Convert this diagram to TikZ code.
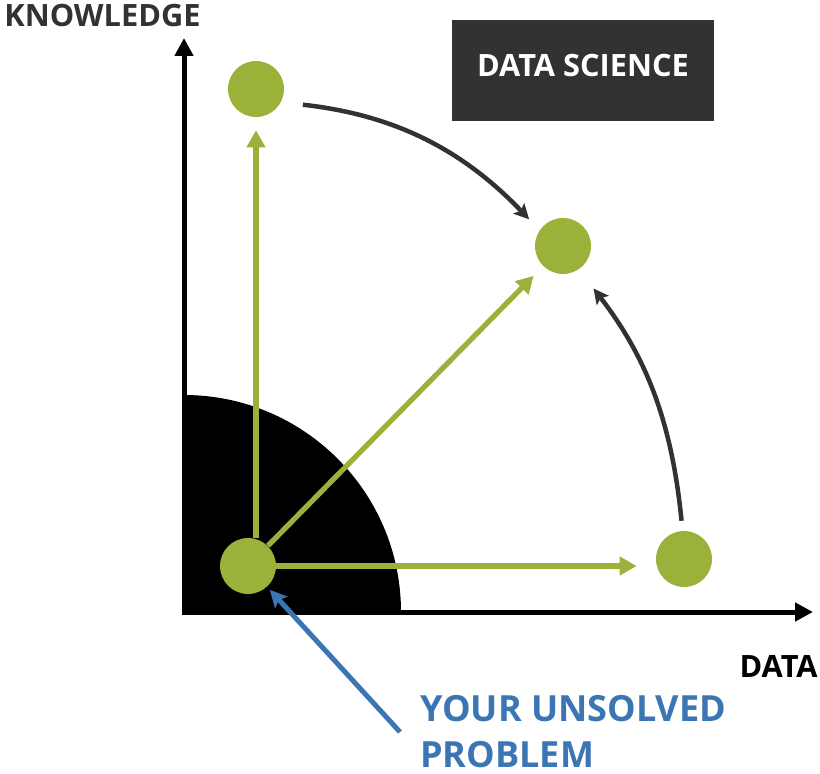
\documentclass[tikz,border=0pt]{standalone}
\usepackage{fontspec}
\setmainfont{Open Sans}
\usetikzlibrary{arrows.meta,positioning,calc}
\usepackage{xcolor}
\definecolor{dsgreen}{RGB}{155,178,58}
\definecolor{dsdark}{RGB}{51,49,50}
\definecolor{dsblue}{RGB}{59,117,180}

\tikzset{
    dot/.style={circle, fill=dsgreen, minimum size=1.12cm, inner sep=0pt},
    axis/.style={line width=0.1cm, {Triangle[length=0.36cm, width=0.36cm]}-{Triangle[length=0.36cm, width=0.36cm]}},
    greenarrow/.style={dsgreen, line width=0.105cm, -{Triangle[length=0.34cm, width=0.36cm]}},
    darkarrow/.style={dsdark, line width=0.09cm, -{Stealth[length=0.3cm, width=0.3cm, inset=0.06cm]}},
    bluearrow/.style={dsblue, line width=0.1cm, -{Stealth[length=0.34cm, width=0.34cm, inset=0.07cm]}},
    label/.style={font=\bfseries\fontsize{17.5}{21}\selectfont, inner sep=0pt}
}

\begin{document}
\begin{tikzpicture}[x=0.02cm, y=-0.02cm]
    \useasboundingbox (0,0) rectangle (820,773);

    % Quarter disk in the corner
    \coordinate (o) at (184,612);
    \fill[black] (o) -- (401,612) arc[start angle=0, end angle=-90, radius=217] -- cycle;

    % Axes
    \draw[axis] (184,38) -- (o) -- (813,612);
    \node[label, anchor=base west, text=dsdark] (ylab) at (4,27) {KNOWLEDGE};
    \node[label, anchor=base east, text=black] (xlab) at (818,677) {DATA};

    % Box
    \node[label, fill=dsdark, text=white, minimum width=5.24cm, minimum height=2.02cm,
          text depth=0.22cm] (dsbox) at (583,70.5) {DATA SCIENCE};

    % Points
    \node[dot] (prob) at (248,566) {};
    \node[dot] (kn) at (256,89) {};
    \node[dot] (ds) at (563,246) {};
    \node[dot] (dn) at (684,559) {};

    % Green arrows out of the problem
    \draw[greenarrow, shorten >=0.26cm] (kn |- prob.north) -- (kn);
    \draw[greenarrow, shorten >=0.27cm] (prob) -- (ds);
    \draw[greenarrow, shorten >=0.38cm] (prob) -- (prob -| dn.west);

    % Curved arrows into data science
    \draw[darkarrow, shorten <=0.44cm, shorten >=0.3cm] (kn.-28) to[bend left=20] (ds.146);
    \draw[darkarrow, shorten <=0.2cm, shorten >=0.48cm] (dn.93) to[bend right=16] (ds.-56);

    % Pointer to the problem
    \coordinate (tail) at (400,732);
    \draw[bluearrow, shorten >=0.08cm] (tail) -- (prob);
    \node[label, anchor=north west, text=dsblue, align=left,
          font=\bfseries\fontsize{20.5}{26.2}\selectfont] (problab) at (420,695) {YOUR UNSOLVED\\PROBLEM};
\end{tikzpicture}
\end{document}
